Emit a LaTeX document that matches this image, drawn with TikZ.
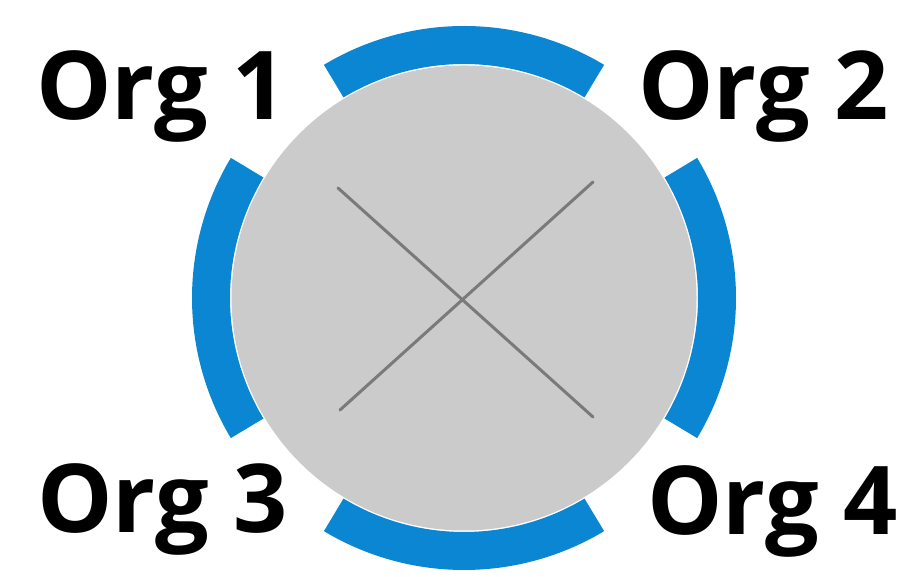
\documentclass[tikz,border=0pt]{standalone}
\usepackage{fontspec}
\setmainfont{Open Sans}
\usetikzlibrary{calc}
\definecolor{bandblue}{HTML}{0A86D2}
\definecolor{discgray}{HTML}{CBCBCB}
\definecolor{crossgray}{HTML}{7A7A7A}
\begin{document}
\begin{tikzpicture}[x=1pt,y=1pt,
  band/.style={fill=bandblue,draw=none},
  orglabel/.style={anchor=base west,inner sep=0pt,font=\fontsize{95}{100}\selectfont\bfseries},
  crossline/.style={draw=crossgray,line width=3pt,line cap=round}]
\useasboundingbox (0,0) rectangle (923,577);
\fill[white] (0,0) rectangle (923,577);
\coordinate (c) at (464,279);
% blue band segments
\foreach \a in {0,90,180,270}{
  \fill[band] ($(c)+(\a-31:272)$) arc[start angle=\a-31,end angle=\a+31,radius=272]
    -- ($(c)+(\a+31:234)$) arc[start angle=\a+31,end angle=\a-31,radius=234] -- cycle;
}
% gray disc
\fill[discgray] (c) circle[radius=232.5];
% cross
\coordinate (x1) at (338,389);
\coordinate (x2) at (593,160);
\coordinate (x3) at (593,395);
\coordinate (x4) at (340,167);
\draw[crossline] (x1) -- (x2);
\draw[crossline] (x3) -- (x4);
% labels
\node[orglabel] (o1) at (36,457) {Org 1};
\node[orglabel] (o2) at (638,457) {Org 2};
\node[orglabel] (o3) at (37,44) {Org 3};
\node[orglabel] (o4) at (647,42) {Org 4};
\end{tikzpicture}
\end{document}
